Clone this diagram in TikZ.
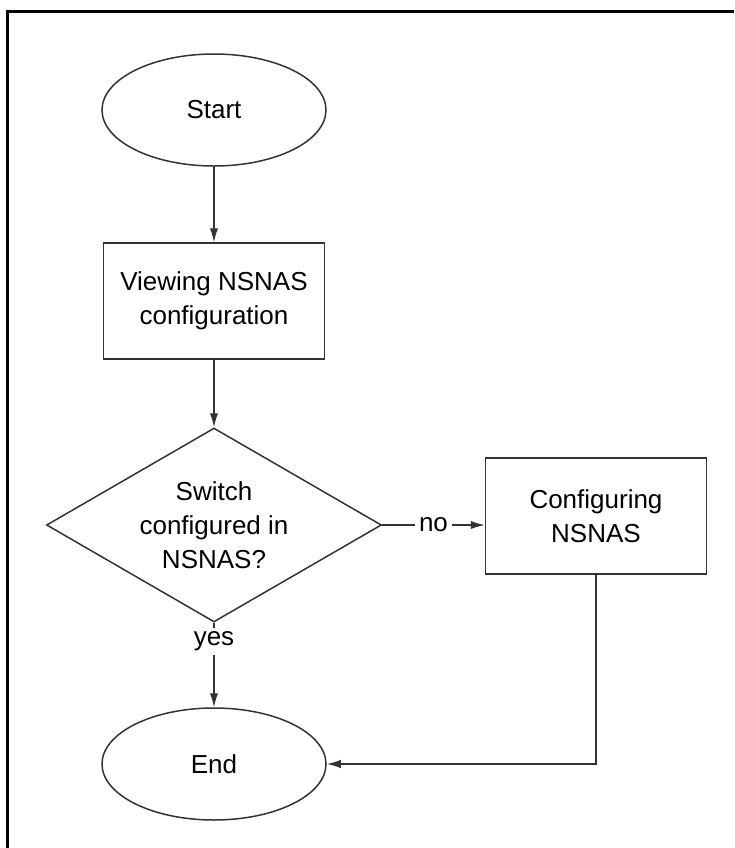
\documentclass[tikz,border=0pt]{standalone}
\usepackage{fontspec}
\setmainfont{Liberation Sans}
\usepackage{tikz}
\usetikzlibrary{shapes.geometric, arrows.meta, positioning}

\begin{document}
\begin{tikzpicture}[
        x=0.5pt, y=-0.5pt,
        >={Latex[length=7pt,width=4.2pt]},
        line width=0.75pt,
        font=\fontsize{13}{17}\selectfont,
        % Style for the start and end ovals
        terminal/.style={ellipse, draw=black!80, minimum width=112pt, minimum height=56pt, inner sep=0pt},
        % Style for the boxes
        process/.style={rectangle, draw=black!80, minimum width=110.5pt, minimum height=58pt, align=center, inner sep=0pt},
        % Style for the question
        decision/.style={diamond, draw=black!80, shape aspect=1.73, minimum width=167.5pt, minimum height=97pt, align=center, inner sep=0pt},
        flow/.style={->, draw=black!80}
    ]
        \useasboundingbox (0,0) rectangle (735,848);

        % --- Frame ---
        \draw[line width=1.5pt] (6,11) -- (734,11);
        \draw[line width=1.5pt] (7,11) -- (7,848);

        % --- Nodes ---
        \node[terminal] (start) at (214,110) {Start};
        \node[process] (view) at (214,301) {Viewing NSNAS\\configuration};
        \node[decision] (check) at (214,525) {Switch\\configured in\\NSNAS?};
        \node[process] (config) at (596,516) {Configuring\\NSNAS};
        \node[terminal] (stop) at (214,764) {End};

        % --- Connectors ---
        \draw[flow] (start) -- (view);
        \draw[flow] (view) -- (check);
        \draw[flow] (check.east) -- (check.east -| config.west)
            node[midway, fill=white, inner sep=2pt] {no};
        \draw[flow] (check.south) -- (stop.north)
            node[pos=0.22, fill=white, inner sep=2pt] {yes};
        \draw[flow] (config.south) |- (stop.east);

    \end{tikzpicture}
\end{document}
